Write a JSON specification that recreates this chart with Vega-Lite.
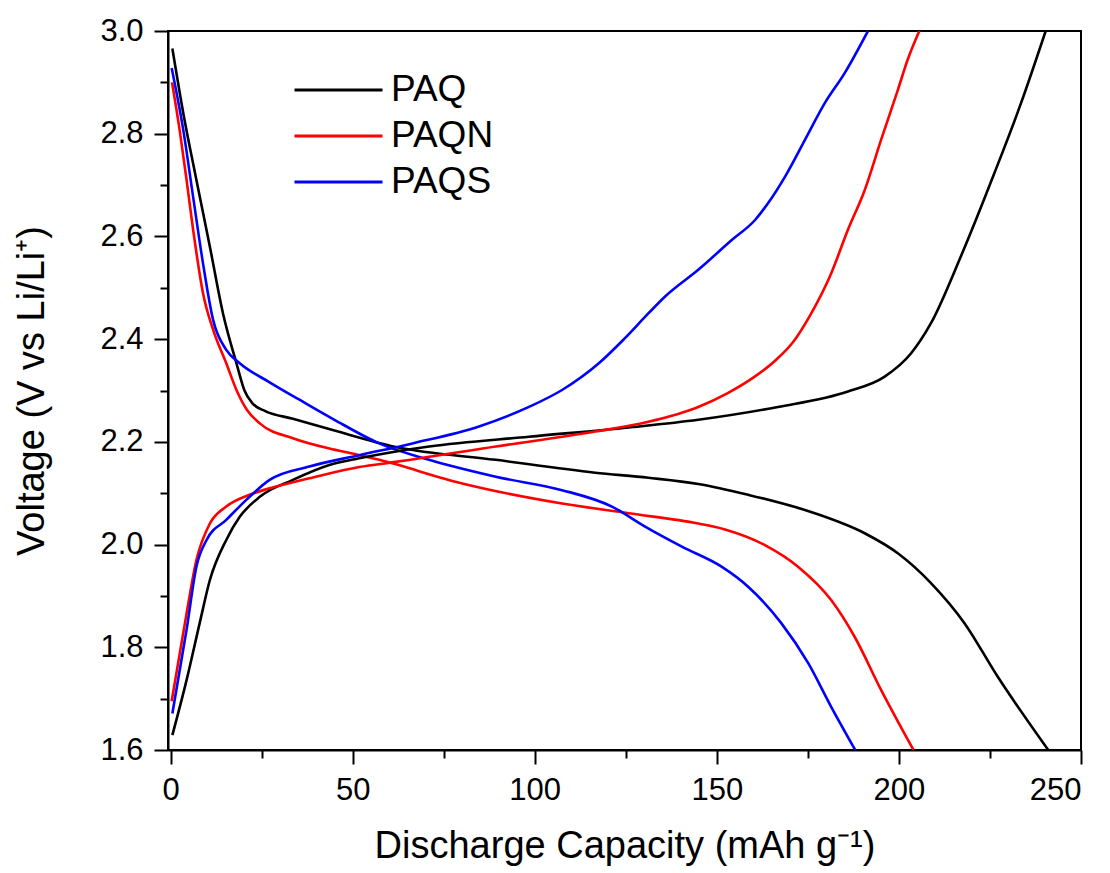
{
  "$schema": "https://vega.github.io/schema/vega-lite/v6.json",
  "autosize": {"type": "none"},
  "padding": {"left": 168, "top": 31, "right": 29, "bottom": 123},
  "width": 913,
  "height": 719,
  "background": "white",
  "config": {
    "font": "Liberation Sans",
    "view": {"stroke": "black", "strokeWidth": 2},
    "axis": {"domainColor": "black", "domainWidth": 2, "tickColor": "black", "tickWidth": 2, "grid": false, "labelColor": "black", "titleColor": "black", "labelFont": "Liberation Sans", "titleFont": "Liberation Sans", "titleFontWeight": "normal"}
  },
  "data": {
    "values": [
      {"s":"PAQ","b":"d","x":0.5,"v":2.966},{"s":"PAQ","b":"d","x":3.5,"v":2.84},{"s":"PAQ","b":"d","x":7.1,"v":2.71},{"s":"PAQ","b":"d","x":10.8,"v":2.58},{"s":"PAQ","b":"d","x":14.4,"v":2.45},{"s":"PAQ","b":"d","x":18.1,"v":2.353},{"s":"PAQ","b":"d","x":20.3,"v":2.3},{"s":"PAQ","b":"d","x":22.5,"v":2.275},{"s":"PAQ","b":"d","x":26,"v":2.26},{"s":"PAQ","b":"d","x":33.6,"v":2.245},{"s":"PAQ","b":"d","x":45,"v":2.222},{"s":"PAQ","b":"d","x":61.9,"v":2.19},{"s":"PAQ","b":"d","x":89.3,"v":2.165},{"s":"PAQ","b":"d","x":116.6,"v":2.14},{"s":"PAQ","b":"d","x":131.2,"v":2.13},{"s":"PAQ","b":"d","x":144.9,"v":2.118},{"s":"PAQ","b":"d","x":158.6,"v":2.097},{"s":"PAQ","b":"d","x":176.9,"v":2.061},{"s":"PAQ","b":"d","x":190.6,"v":2.022},{"s":"PAQ","b":"d","x":199.7,"v":1.983},{"s":"PAQ","b":"d","x":208.8,"v":1.925},{"s":"PAQ","b":"d","x":218,"v":1.847},{"s":"PAQ","b":"d","x":227.1,"v":1.743},{"s":"PAQ","b":"d","x":241,"v":1.6},
      {"s":"PAQN","b":"d","x":0.4,"v":2.9},{"s":"PAQN","b":"d","x":2.5,"v":2.807},{"s":"PAQN","b":"d","x":4.4,"v":2.71},{"s":"PAQN","b":"d","x":6.2,"v":2.613},{"s":"PAQN","b":"d","x":8.9,"v":2.49},{"s":"PAQN","b":"d","x":11.7,"v":2.418},{"s":"PAQN","b":"d","x":15.3,"v":2.353},{"s":"PAQN","b":"d","x":18.1,"v":2.301},{"s":"PAQN","b":"d","x":21,"v":2.262},{"s":"PAQN","b":"d","x":24.5,"v":2.236},{"s":"PAQN","b":"d","x":33.6,"v":2.207},{"s":"PAQN","b":"d","x":43.6,"v":2.187},{"s":"PAQN","b":"d","x":50.9,"v":2.176},{"s":"PAQN","b":"d","x":57.3,"v":2.165},{"s":"PAQN","b":"d","x":80.1,"v":2.119},{"s":"PAQN","b":"d","x":107.5,"v":2.08},{"s":"PAQN","b":"d","x":125.8,"v":2.061},{"s":"PAQN","b":"d","x":144.9,"v":2.041},{"s":"PAQN","b":"d","x":152,"v":2.03},{"s":"PAQN","b":"d","x":163.2,"v":1.999},{"s":"PAQN","b":"d","x":172.3,"v":1.957},{"s":"PAQN","b":"d","x":181.4,"v":1.892},{"s":"PAQN","b":"d","x":187.8,"v":1.821},{"s":"PAQN","b":"d","x":195.1,"v":1.717},{"s":"PAQN","b":"d","x":204,"v":1.6},
      {"s":"PAQS","b":"d","x":0.3,"v":2.928},{"s":"PAQS","b":"d","x":3.5,"v":2.807},{"s":"PAQS","b":"d","x":6.2,"v":2.677},{"s":"PAQS","b":"d","x":8.9,"v":2.548},{"s":"PAQS","b":"d","x":11.7,"v":2.437},{"s":"PAQS","b":"d","x":15.3,"v":2.379},{"s":"PAQS","b":"d","x":19,"v":2.353},{"s":"PAQS","b":"d","x":27.2,"v":2.316},{"s":"PAQS","b":"d","x":35.4,"v":2.282},{"s":"PAQS","b":"d","x":45,"v":2.243},{"s":"PAQS","b":"d","x":57.3,"v":2.197},{"s":"PAQS","b":"d","x":71,"v":2.165},{"s":"PAQS","b":"d","x":89.3,"v":2.132},{"s":"PAQS","b":"d","x":107.5,"v":2.106},{"s":"PAQS","b":"d","x":121.2,"v":2.074},{"s":"PAQS","b":"d","x":130.3,"v":2.035},{"s":"PAQS","b":"d","x":140.4,"v":1.996},{"s":"PAQS","b":"d","x":151.3,"v":1.957},{"s":"PAQS","b":"d","x":158.6,"v":1.918},{"s":"PAQS","b":"d","x":167.7,"v":1.847},{"s":"PAQS","b":"d","x":175.1,"v":1.769},{"s":"PAQS","b":"d","x":181.4,"v":1.684},{"s":"PAQS","b":"d","x":188,"v":1.6},
      {"s":"PAQ","b":"c","x":0.5,"v":1.629},{"s":"PAQ","b":"c","x":4.4,"v":1.736},{"s":"PAQ","b":"c","x":8,"v":1.847},{"s":"PAQ","b":"c","x":10.8,"v":1.931},{"s":"PAQ","b":"c","x":15.3,"v":2.009},{"s":"PAQ","b":"c","x":19,"v":2.054},{"s":"PAQ","b":"c","x":24.5,"v":2.093},{"s":"PAQ","b":"c","x":33.6,"v":2.126},{"s":"PAQ","b":"c","x":43.6,"v":2.155},{"s":"PAQ","b":"c","x":51.8,"v":2.168},{"s":"PAQ","b":"c","x":71,"v":2.191},{"s":"PAQ","b":"c","x":98.4,"v":2.21},{"s":"PAQ","b":"c","x":125.8,"v":2.228},{"s":"PAQ","b":"c","x":144.9,"v":2.243},{"s":"PAQ","b":"c","x":166.8,"v":2.268},{"s":"PAQ","b":"c","x":186,"v":2.298},{"s":"PAQ","b":"c","x":196.1,"v":2.327},{"s":"PAQ","b":"c","x":203.3,"v":2.372},{"s":"PAQ","b":"c","x":208.8,"v":2.431},{"s":"PAQ","b":"c","x":217,"v":2.561},{"s":"PAQ","b":"c","x":226.2,"v":2.723},{"s":"PAQ","b":"c","x":233.5,"v":2.859},{"s":"PAQ","b":"c","x":240.3,"v":3.0},
      {"s":"PAQN","b":"c","x":0.3,"v":1.695},{"s":"PAQN","b":"c","x":4.4,"v":1.866},{"s":"PAQN","b":"c","x":7.1,"v":1.97},{"s":"PAQN","b":"c","x":10.8,"v":2.041},{"s":"PAQN","b":"c","x":15.3,"v":2.074},{"s":"PAQN","b":"c","x":21.7,"v":2.097},{"s":"PAQN","b":"c","x":29,"v":2.113},{"s":"PAQN","b":"c","x":38.1,"v":2.129},{"s":"PAQN","b":"c","x":51.8,"v":2.151},{"s":"PAQN","b":"c","x":61.9,"v":2.161},{"s":"PAQN","b":"c","x":89.3,"v":2.191},{"s":"PAQN","b":"c","x":116.6,"v":2.22},{"s":"PAQN","b":"c","x":131.2,"v":2.239},{"s":"PAQN","b":"c","x":144.9,"v":2.268},{"s":"PAQN","b":"c","x":153,"v":2.295},{"s":"PAQN","b":"c","x":160,"v":2.325},{"s":"PAQN","b":"c","x":166,"v":2.358},{"s":"PAQN","b":"c","x":171,"v":2.395},{"s":"PAQN","b":"c","x":175.5,"v":2.445},{"s":"PAQN","b":"c","x":181.4,"v":2.528},{"s":"PAQN","b":"c","x":186,"v":2.613},{"s":"PAQN","b":"c","x":190.6,"v":2.69},{"s":"PAQN","b":"c","x":195.1,"v":2.788},{"s":"PAQN","b":"c","x":199.7,"v":2.885},{"s":"PAQN","b":"c","x":202.4,"v":2.944},{"s":"PAQN","b":"c","x":205.6,"v":3.0},
      {"s":"PAQS","b":"c","x":0.5,"v":1.671},{"s":"PAQS","b":"c","x":4.4,"v":1.834},{"s":"PAQS","b":"c","x":7.1,"v":1.957},{"s":"PAQS","b":"c","x":9.9,"v":2.009},{"s":"PAQS","b":"c","x":15.3,"v":2.048},{"s":"PAQS","b":"c","x":20.8,"v":2.087},{"s":"PAQS","b":"c","x":27.2,"v":2.126},{"s":"PAQS","b":"c","x":38.1,"v":2.152},{"s":"PAQS","b":"c","x":51.8,"v":2.174},{"s":"PAQS","b":"c","x":66.4,"v":2.197},{"s":"PAQS","b":"c","x":84.7,"v":2.23},{"s":"PAQS","b":"c","x":98.4,"v":2.268},{"s":"PAQS","b":"c","x":107.5,"v":2.301},{"s":"PAQS","b":"c","x":117.6,"v":2.353},{"s":"PAQS","b":"c","x":124.5,"v":2.4},{"s":"PAQS","b":"c","x":131.2,"v":2.45},{"s":"PAQS","b":"c","x":135.8,"v":2.483},{"s":"PAQS","b":"c","x":144.9,"v":2.535},{"s":"PAQS","b":"c","x":154.1,"v":2.593},{"s":"PAQS","b":"c","x":160.5,"v":2.632},{"s":"PAQS","b":"c","x":164.1,"v":2.665},{"s":"PAQS","b":"c","x":168.7,"v":2.716},{"s":"PAQS","b":"c","x":174.2,"v":2.788},{"s":"PAQS","b":"c","x":179.6,"v":2.859},{"s":"PAQS","b":"c","x":185.1,"v":2.918},{"s":"PAQS","b":"c","x":191.5,"v":3.0}
    ]
  },
  "layer": [
    {
      "mark": {"type": "line", "strokeWidth": 2.6, "interpolate": "monotone", "clip": true},
      "encoding": {
        "x": {"field": "x", "type": "quantitative", "scale": {"domain": [-0.7, 250], "nice": false, "zero": false},
          "axis": {"values": [0, 50, 100, 150, 200, 250], "tickSize": 14, "labelPadding": 11, "labelFontSize": 31, "title": "Discharge Capacity (mAh g⁻¹)", "titleFontSize": 38, "titlePadding": 22, "orient": "bottom"}},
        "y": {"field": "v", "type": "quantitative", "scale": {"domain": [1.6, 3.0], "nice": false, "zero": false},
          "axis": {"values": [1.6, 1.8, 2.0, 2.2, 2.4, 2.6, 2.8, 3.0], "format": ".1f", "tickSize": 14, "labelPadding": 11, "labelFontSize": 31, "title": "Voltage (V vs Li/Li⁺)", "titleFontSize": 38, "titlePadding": 48, "orient": "left"}},
        "color": {"field": "s", "type": "nominal", "scale": {"domain": ["PAQ", "PAQN", "PAQS"], "range": ["#000000", "#ff0000", "#0000ff"]},
          "legend": {"title": null, "orient": "none", "legendX": 125, "legendY": 41, "symbolType": "stroke", "symbolSize": 7744, "symbolStrokeWidth": 3, "labelFontSize": 37, "labelFont": "Liberation Sans", "labelColor": "black", "labelOffset": 7, "clipHeight": 36, "rowPadding": 9, "padding": 0}},
        "detail": {"field": "b", "type": "nominal"}
      }
    },
    {
      "mark": {"type": "line", "opacity": 0},
      "encoding": {
        "x": {"field": "x", "type": "quantitative", "axis": {"values": [25, 75, 125, 175, 225], "tickSize": 8, "labels": false, "domain": false, "title": null, "orient": "bottom"}},
        "y": {"field": "v", "type": "quantitative", "axis": {"values": [1.7, 1.9, 2.1, 2.3, 2.5, 2.7, 2.9], "tickSize": 8, "labels": false, "domain": false, "title": null, "orient": "left"}},
        "detail": {"field": "b", "type": "nominal"}
      }
    }
  ],
  "resolve": {"axis": {"x": "independent", "y": "independent"}}
}
